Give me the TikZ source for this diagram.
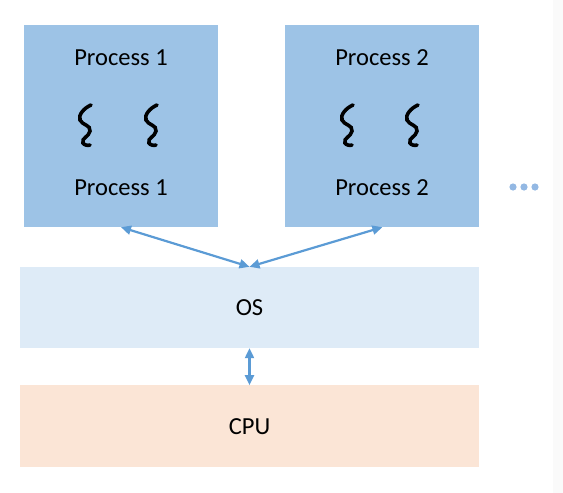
\documentclass[tikz,border=0pt]{standalone}
\usepackage{fontspec}
\setmainfont{Carlito}
\usetikzlibrary{arrows.meta,positioning,calc}
\definecolor{procblue}{HTML}{9DC3E6}
\definecolor{osblue}{HTML}{DEEBF7}
\definecolor{cpupeach}{HTML}{FBE5D6}
\definecolor{linkblue}{HTML}{5B9BD5}
\definecolor{dotblue}{HTML}{93B8E3}

\begin{document}
\begin{tikzpicture}[
  x=1pt,y=-1pt,
  node distance=40pt and 67pt,
  proc/.style={rectangle,fill=procblue,minimum width=194pt,minimum height=202pt,inner sep=0pt},
  layer/.style={rectangle,minimum width=459pt,minimum height=81pt,inner sep=0pt,font=\fontsize{24.5}{28}\selectfont},
  lbl/.style={font=\fontsize{24.5}{28}\selectfont,inner sep=0pt},
  thread/.style={line width=3.6pt,line cap=round},
  link/.style={{Triangle[length=10pt,width=9pt]}-{Triangle[length=10pt,width=9pt]},line width=2.2pt,linkblue}
]
  \useasboundingbox (0,0) rectangle (563,493);
  \fill[gray!4] (553,0) rectangle (563,493);

  \node[proc] (p1) at (121,126) {};
  \node[proc,right=of p1] (p2) {};
  \node[layer,fill=osblue] (os) at (249.5,307.5) {OS};
  \node[layer,fill=cpupeach,minimum height=82pt,below=37pt of os] (cpu) {CPU};

  \node[lbl] (p1top) at (121,58)  {Process 1};
  \node[lbl] (p1bot) at (121,188) {Process 1};
  \node[lbl] (p2top) at (382,58)  {Process 2};
  \node[lbl] (p2bot) at (382,188) {Process 2};

  % threads
  \foreach \cx in {85,151,347,412}
    \draw[thread] (\cx+6,105) .. controls (\cx-1,108) and (\cx-7,115) .. (\cx-5,120)
                  .. controls (\cx-3,125) and (\cx+6,125) .. (\cx+5,131)
                  .. controls (\cx+4,137) and (\cx-4,138) .. (\cx-2,143)
                  .. controls (\cx-1,145) and (\cx+3,146) .. (\cx+5,145);

  % more processes
  \foreach \dx in {513,524,535}
    \fill[dotblue] (\dx,187) circle (3.6pt);

  \draw[link] (p1.south) -- (os.north);
  \draw[link] (p2.south) -- (os.north);
  \draw[link] (os.south) -- (cpu.north);
\end{tikzpicture}
\end{document}
